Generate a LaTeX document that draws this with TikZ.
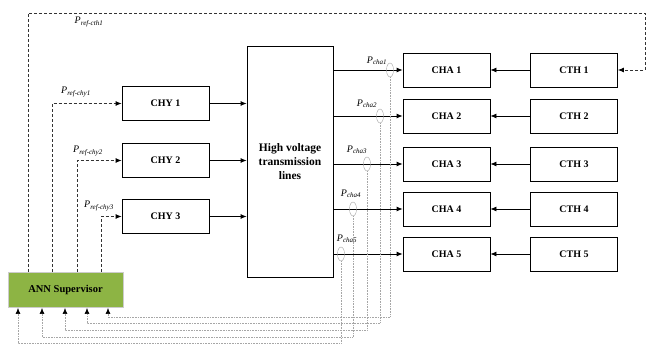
\documentclass[tikz,border=0pt]{standalone}
\usepackage{fontspec}
\setmainfont{Liberation Serif}
\usepackage{xcolor}
\usetikzlibrary{shapes.geometric, arrows.meta, positioning}
\definecolor{anngreen}{RGB}{141,180,68}
\newcommand{\plab}[1]{\textit{P}\textsubscript{\textit{#1}}}
\tikzset{
  font=\small,                                   % serif text everywhere
  chbox/.style    = {rectangle, draw, line width=0.8pt, inner sep=0pt,
                     minimum width=87pt, minimum height=34pt,
                     font=\bfseries\fontsize{10}{12}\selectfont},
  hvbox/.style    = {rectangle, draw, line width=0.8pt, align=center,
                     minimum width=86pt, minimum height=231pt,
                     font=\bfseries\fontsize{11.5}{14}\selectfont},
  annbox/.style   = {rectangle, draw=gray!40, line width=1pt, fill=anngreen,
                     minimum width=115pt, minimum height=35pt,
                     font=\bfseries\fontsize{10.5}{12}\selectfont},
  sensor/.style   = {ellipse, draw=gray!70, minimum width=7pt,
                     minimum height=14pt, inner sep=0pt},
  plabel/.style   = {font=\fontsize{10}{12}\selectfont, inner sep=1pt},
  arrow/.style    = {-{Latex[length=6pt,width=5pt]}, line width=0.8pt},
  refline/.style  = {densely dashed, line width=0.8pt, black!80,
                     -{Latex[length=6pt,width=5pt,color=black]}},
  fbline/.style   = {densely dotted, gray!70, line width=0.6pt,
                     -{Latex[length=6pt,width=5pt,color=black]}}
}
\begin{document}
\begin{tikzpicture}[x=1pt, y=-1pt]
  \useasboundingbox (0,0) rectangle (649,347);
  % boxes
  \node[chbox] (chy1) at (165.5,103.5) {CHY 1};
  \node[chbox] (chy2) at (165.5,160.5) {CHY 2};
  \node[chbox] (chy3) at (165.5,216.5) {CHY 3};
  \node[hvbox] (hv) at (290,161.5) {High voltage\\transmission\\lines};
  \node[chbox] (cha1) at (446.5,70) {CHA 1};
  \node[chbox] (cha2) at (446.5,116) {CHA 2};
  \node[chbox] (cha3) at (446.5,164) {CHA 3};
  \node[chbox] (cha4) at (446.5,209) {CHA 4};
  \node[chbox] (cha5) at (446.5,254) {CHA 5};
  \node[chbox] (cth1) at (574,70) {CTH 1};
  \node[chbox] (cth2) at (574,116) {CTH 2};
  \node[chbox] (cth3) at (574,164) {CTH 3};
  \node[chbox] (cth4) at (574,209) {CTH 4};
  \node[chbox] (cth5) at (574,254) {CTH 5};
  \node[annbox] (ann) at (65.5,290) {ANN Supervisor};
  % power flow
  \draw[arrow] (chy1.east) -- (chy1.east -| hv.west);
  \draw[arrow] (chy2.east) -- (chy2.east -| hv.west);
  \draw[arrow] (chy3.east) -- (chy3.east -| hv.west);
  \draw[arrow] (cha1.west -| hv.east) -- (cha1.west);
  \draw[arrow] (cha2.west -| hv.east) -- (cha2.west);
  \draw[arrow] (cha3.west -| hv.east) -- (cha3.west);
  \draw[arrow] (cha4.west -| hv.east) -- (cha4.west);
  \draw[arrow] (cha5.west -| hv.east) -- (cha5.west);
  \draw[arrow] (cth1.west) -- (cha1.east);
  \draw[arrow] (cth2.west) -- (cha2.east);
  \draw[arrow] (cth3.west) -- (cha3.east);
  \draw[arrow] (cth4.west) -- (cha4.east);
  \draw[arrow] (cth5.west) -- (cha5.east);
  % current sensors
  \node[sensor] (s1) at (390,70) {};
  \node[sensor] (s2) at (380,116) {};
  \node[sensor] (s3) at (367,164) {};
  \node[sensor] (s4) at (353,209) {};
  \node[sensor] (s5) at (341,254) {};
  \node[plabel] (pcha1) at (377,61) {\plab{cha1}};
  \node[plabel] (pcha2) at (367,104) {\plab{cha2}};
  \node[plabel] (pcha3) at (357,150) {\plab{cha3}};
  \node[plabel] (pcha4) at (351,194) {\plab{cha4}};
  \node[plabel] (pcha5) at (347,239) {\plab{cha5}};
  % references from the supervisor
  \coordinate (r0) at (28,13);
  \coordinate (rr) at (645,13);
  \coordinate (u1) at (52,103.5);
  \coordinate (u2) at (77,160.5);
  \coordinate (u3) at (101,216.5);
  \draw[refline] (ann.north -| r0) -- (r0) -- (rr) |- (cth1.east);
  \draw[refline] (ann.north -| u1) -- (u1) -- (chy1.west);
  \draw[refline] (ann.north -| u2) -- (u2) -- (chy2.west);
  \draw[refline] (ann.north -| u3) -- (u3) -- (chy3.west);
  \node[plabel] (pcth) at (89,22) {\plab{ref-cth1}};
  \node[plabel] (pchy1) at (76,92) {\plab{ref-chy1}};
  \node[plabel] (pchy2) at (88,151) {\plab{ref-chy2}};
  \node[plabel] (pchy3) at (99,206) {\plab{ref-chy3}};
  % measurements back to the supervisor
  \coordinate (f1) at (108,317);
  \coordinate (f2) at (87,323);
  \coordinate (f3) at (65,330);
  \coordinate (f4) at (42,337);
  \coordinate (f5) at (18,343);
  \draw[fbline] (s1.south) |- (f1) -- (f1 |- ann.south);
  \draw[fbline] (s2.south) |- (f2) -- (f2 |- ann.south);
  \draw[fbline] (s3.south) |- (f3) -- (f3 |- ann.south);
  \draw[fbline] (s4.south) |- (f4) -- (f4 |- ann.south);
  \draw[fbline] (s5.south) |- (f5) -- (f5 |- ann.south);
\end{tikzpicture}
\end{document}
